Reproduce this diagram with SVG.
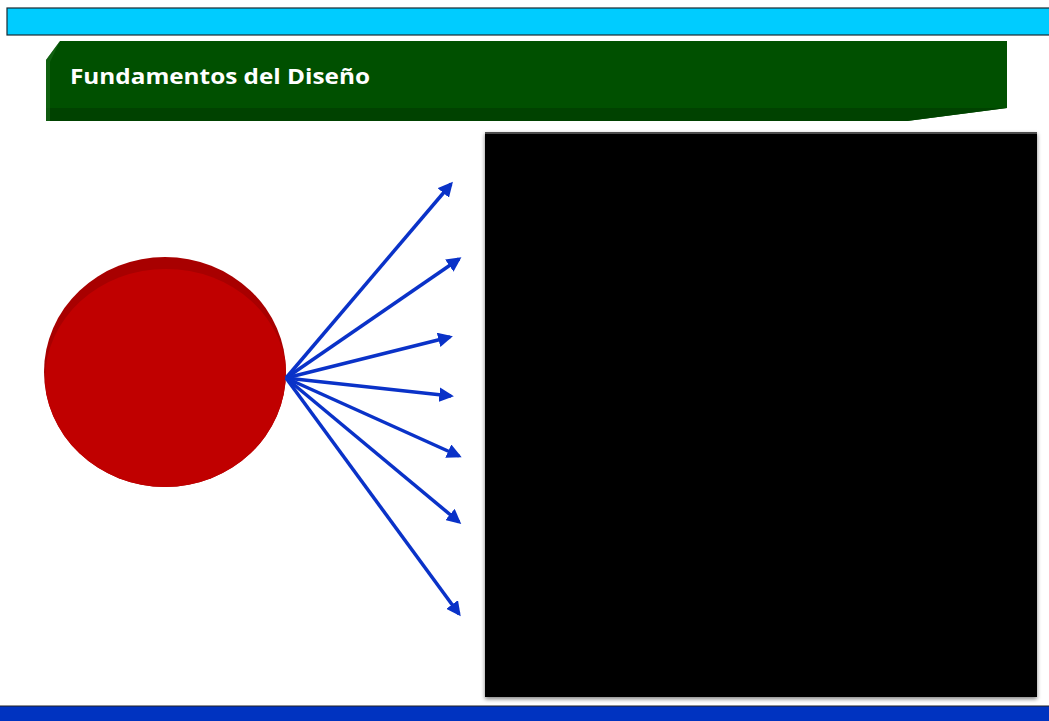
<svg xmlns="http://www.w3.org/2000/svg" width="1049" height="721" viewBox="0 0 1049 721">
<defs>
<style>
.arrow{stroke:#0a32c8;stroke-width:3.5;fill:none;marker-end:url(#ah)}
.title{font-family:"Open Sans","Liberation Sans",sans-serif;font-weight:bold;font-size:21px;fill:#ffffff}
</style>
<marker id="ah" viewBox="0 0 10 10" refX="8" refY="5" markerWidth="4.2" markerHeight="4.2" orient="auto" markerUnits="strokeWidth">
<path d="M0,0 L10,5 L0,10 z" fill="#0a32c8"/>
</marker>
<filter id="sh" x="-5%" y="-5%" width="110%" height="110%">
<feGaussianBlur in="SourceAlpha" stdDeviation="2"/>
<feOffset dx="0" dy="2"/>
<feComponentTransfer><feFuncA type="linear" slope="0.5"/></feComponentTransfer>
<feMerge><feMergeNode/><feMergeNode in="SourceGraphic"/></feMerge>
</filter>
<clipPath id="cc"><ellipse cx="165" cy="372" rx="121" ry="115"/></clipPath>
</defs>
<rect width="1049" height="721" fill="#ffffff"/>
<g id="topbar">
<rect x="7" y="8" width="1045" height="27" fill="#00ccff" stroke="#1a2a33" stroke-width="1.2"/>
</g>
<g id="banner">
<path d="M60,41 L1007,41 L1007,108 L907,121 L46,121 L46,60 Z" fill="#005000"/>
<path d="M46,108 L1007,108 L907,121 L46,121 Z" fill="#004200"/>
<path d="M60,41 L46,60 L46,121 L50,121 L50,62 Z" fill="#1a6a1a" opacity="0.6"/>
<text class="title" x="70" y="84" textLength="300" lengthAdjust="spacingAndGlyphs">Fundamentos del Diseño</text>
</g>
<g id="circle">
<ellipse cx="165" cy="372" rx="121" ry="115" fill="#a80000"/>
<ellipse cx="166" cy="379" rx="121" ry="110" fill="#c00000" clip-path="url(#cc)"/>
</g>
<g id="box">
<rect x="485" y="132" width="552" height="565" fill="#050505" filter="url(#sh)"/>
<line x1="485" y1="133" x2="1037" y2="133" stroke="#666" stroke-width="1.5"/>
</g>
<g id="connectors">
<line class="arrow" x1="286" y1="378" x2="451" y2="184"/>
<line class="arrow" x1="286" y1="378" x2="459" y2="259"/>
<line class="arrow" x1="286" y1="378" x2="450" y2="337"/>
<line class="arrow" x1="286" y1="378" x2="451" y2="396"/>
<line class="arrow" x1="286" y1="378" x2="459" y2="456"/>
<line class="arrow" x1="286" y1="378" x2="459" y2="522"/>
<line class="arrow" x1="286" y1="378" x2="459" y2="614"/>
</g>
<g id="bottombar">
<rect x="0" y="706" width="1049" height="15" fill="#0033c0"/>
<line x1="0" y1="706" x2="1049" y2="706" stroke="#222" stroke-width="1.2"/>
</g>
</svg>
